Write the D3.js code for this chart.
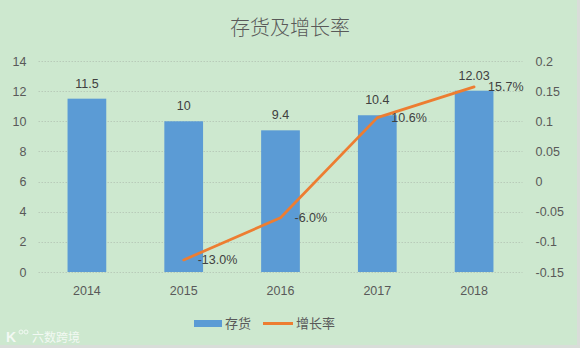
<!DOCTYPE html>
<html>
<head>
<meta charset="utf-8">
<script src="https://cdn.jsdelivr.net/npm/d3@7"></script>
<style>
  html, body { margin: 0; padding: 0; background: #d9ddd9; }
  svg { display: block; }
</style>
</head>
<body>
<svg id="chart" width="580" height="348"></svg>
<script>
// Inventory (bars, left axis) and its year-over-year growth (line, right axis)
const years = ["2014", "2015", "2016", "2017", "2018"];
const inventory = [11.5, 10, 9.4, 10.4, 12.03];
const growthYears = ["2015", "2016", "2017", "2018"];
const growth = [-0.13, -0.06, 0.106, 0.157];
const leftTicks = [0, 2, 4, 6, 8, 10, 12, 14];
const rightTicks = [-0.15, -0.1, -0.05, 0, 0.05, 0.1, 0.15, 0.2];
const title = "存货及增长率";
const seriesNames = ["存货", "增长率"];

const W = 580, H = 348;
const margin = { top: 61, bottom: 76, left: 38.5, right: 57.5 };
const font = "'Liberation Sans', 'Noto Sans CJK SC', sans-serif";
const cjk = "'Noto Sans CJK SC', sans-serif";
const textColor = "#595959";
const barColor = "#5b9bd5";
const lineColor = "#ed7d31";

// plain hyphen for negative numbers
const loc = d3.formatLocale({ decimal: ".", thousands: ",", grouping: [3], currency: ["", ""], minus: "-" });
const fmtNum = loc.format("");
const fmtPct = loc.format(".1%");

const svg = d3.select("#chart");

// chart background
svg.append("rect")
  .attr("x", 0).attr("y", 0).attr("width", 577).attr("height", 345)
  .attr("fill", "#cde8cf");

const x = d3.scaleBand()
  .domain(years)
  .range([margin.left, W - margin.right])
  .paddingInner(0.6)
  .paddingOuter(0.3);

const yL = d3.scaleLinear().domain([0, 14]).range([H - margin.bottom, margin.top]);
const yR = d3.scaleLinear().domain([-0.15, 0.2]).range([H - margin.bottom, margin.top]);

// gridlines
svg.append("g")
  .selectAll("line")
  .data(leftTicks)
  .join("line")
  .attr("x1", margin.left).attr("x2", W - margin.right)
  .attr("y1", d => Math.round(yL(d)) + 0.5).attr("y2", d => Math.round(yL(d)) + 0.5)
  .attr("stroke", "#b8cbb9")
  .attr("stroke-width", 1)
  .attr("stroke-dasharray", "1.5,1.5");

// left axis
const axL = svg.append("g")
  .attr("transform", `translate(${margin.left - 12},0)`)
  .call(d3.axisLeft(yL).tickValues(leftTicks).tickSize(0).tickPadding(0).tickFormat(d3.format("d")));
axL.select(".domain").remove();
axL.selectAll("text").attr("font-family", font).attr("font-size", 12.5).attr("fill", textColor);

// right axis
const axR = svg.append("g")
  .attr("transform", `translate(${W - margin.right + 13},0)`)
  .call(d3.axisRight(yR).tickValues(rightTicks).tickSize(0).tickPadding(0).tickFormat(d => fmtNum(+d.toFixed(2))));
axR.select(".domain").remove();
axR.selectAll("text").attr("font-family", font).attr("font-size", 12.5).attr("fill", textColor);

// bottom axis
const axB = svg.append("g")
  .attr("transform", `translate(0,${H - margin.bottom + 14})`)
  .call(d3.axisBottom(x).tickSize(0).tickPadding(0));
axB.select(".domain").remove();
axB.selectAll("text").attr("font-family", font).attr("font-size", 12.5).attr("fill", textColor);

// bars
const barData = years.map((yr, i) => ({ yr, v: inventory[i] }));
svg.append("g")
  .selectAll("rect")
  .data(barData)
  .join("rect")
  .attr("x", d => x(d.yr))
  .attr("y", d => yL(d.v))
  .attr("width", x.bandwidth())
  .attr("height", d => yL(0) - yL(d.v))
  .attr("fill", barColor);

// bar value labels
svg.append("g")
  .selectAll("text")
  .data(barData)
  .join("text")
  .attr("x", d => x(d.yr) + x.bandwidth() / 2)
  .attr("y", d => yL(d.v) - 11)
  .attr("text-anchor", "middle")
  .attr("font-family", font).attr("font-size", 12.5)
  .attr("fill", "#404040")
  .text(d => fmtNum(d.v));

// growth line
const pts = growthYears.map((yr, i) => ({ yr, v: growth[i] }));
const line = d3.line()
  .x(d => x(d.yr) + x.bandwidth() / 2)
  .y(d => yR(d.v));
svg.append("path")
  .datum(pts)
  .attr("d", line)
  .attr("fill", "none")
  .attr("stroke", lineColor)
  .attr("stroke-width", 2.75)
  .attr("stroke-linejoin", "round")
  .attr("stroke-linecap", "round");

// growth labels
svg.append("g")
  .selectAll("text")
  .data(pts)
  .join("text")
  .attr("x", d => x(d.yr) + x.bandwidth() / 2 + 14)
  .attr("y", d => yR(d.v) + 4)
  .attr("font-family", font).attr("font-size", 12.5)
  .attr("fill", "#404040")
  .text(d => fmtPct(d.v));

// title
svg.append("text")
  .attr("x", 290).attr("y", 35)
  .attr("text-anchor", "middle")
  .attr("font-family", cjk).attr("font-size", 20)
  .attr("font-weight", 300)
  .attr("fill", textColor)
  .text(title);

// legend
const lg = svg.append("g");
lg.append("rect").attr("x", 194).attr("y", 320).attr("width", 28).attr("height", 7).attr("fill", barColor);
lg.append("text").attr("x", 225).attr("y", 328)
  .attr("font-family", cjk).attr("font-size", 13).attr("fill", textColor).text(seriesNames[0]);
lg.append("line").attr("x1", 263).attr("x2", 293).attr("y1", 323.5).attr("y2", 323.5)
  .attr("stroke", lineColor).attr("stroke-width", 3);
lg.append("text").attr("x", 296).attr("y", 328)
  .attr("font-family", cjk).attr("font-size", 13).attr("fill", textColor).text(seriesNames[1]);

// watermark
const wm = svg.append("g").attr("opacity", 0.75);
wm.append("text").attr("x", 6).attr("y", 342)
  .attr("font-family", font).attr("font-size", 14).attr("font-weight", "bold")
  .attr("fill", "#ffffff").text("K");
wm.append("circle").attr("cx", 21).attr("cy", 332).attr("r", 2).attr("fill", "none").attr("stroke", "#ffffff");
wm.append("circle").attr("cx", 26).attr("cy", 332).attr("r", 2).attr("fill", "none").attr("stroke", "#ffffff");
wm.append("text").attr("x", 32).attr("y", 342)
  .attr("font-family", cjk).attr("font-size", 12)
  .attr("fill", "#ffffff").text("六数跨境");
</script>
</body>
</html>
